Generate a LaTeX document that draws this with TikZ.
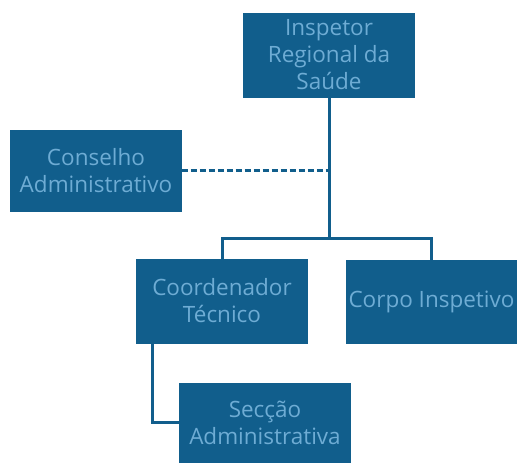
\documentclass[tikz,border=0pt]{standalone}
\usepackage{fontspec}
\setmainfont{Open Sans}
\usepackage{tikz}
\definecolor{orgblue}{RGB}{17,94,140}
\definecolor{orgtext}{RGB}{110,172,212}

\tikzset{
  unit/.style={draw=orgblue, fill=orgblue, text=orgtext, align=center,
    minimum width=171pt, minimum height=83pt, inner sep=0pt,
    font=\fontsize{22.5}{27}\selectfont},
  link/.style={draw=orgblue, line width=3pt},
}

\begin{document}
\begin{tikzpicture}[x=1pt,y=1pt]
\useasboundingbox (0,0) rectangle (517,463);

\node[unit, minimum height=84pt] (inspetor) at (329,408) {Inspetor\\Regional da\\Sa\'ude};
\node[unit, minimum height=81pt] (conselho) at (96,292) {Conselho\\Administrativo};
\node[unit, minimum height=84pt] (coord) at (222,162) {Coordenador\\T\'ecnico};
\node[unit] (corpo) at (431.5,161.5) {Corpo Inspetivo};
\node[unit, minimum height=80pt] (seccao) at (265,40) {Sec\c{c}\~ao\\Administrativa};

\coordinate (split) at (329,224);
\coordinate (meet) at (329,292);
\draw[link] (inspetor.south) -- (split);
\draw[link] (coord.north) |- (split) -| (corpo.north);
\draw[link, dash pattern=on 6pt off 3pt] (conselho.east) -- (meet);
\draw[link] ([xshift=-70pt]coord.south) |- (seccao.west);
\end{tikzpicture}
\end{document}
